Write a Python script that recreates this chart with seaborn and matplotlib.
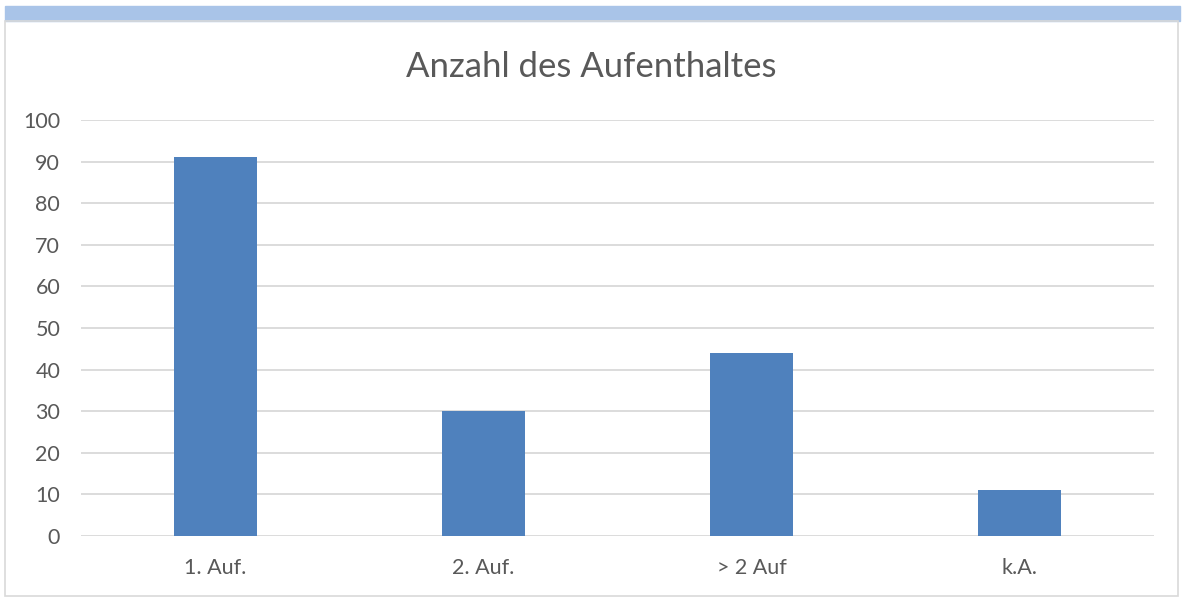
import matplotlib
matplotlib.use("Agg")
import matplotlib.pyplot as plt
import seaborn as sns
import pandas as pd
from matplotlib.patches import Rectangle

# ── Data ────────────────────────────────────────────────────────────────────
categories = ["1. Auf.", "2. Auf.", "> 2 Auf", "k.A."]
counts     = [91, 30, 44, 11]
y_ticks    = [0, 10, 20, 30, 40, 50, 60, 70, 80, 90, 100]

BAR_COLOR  = "#4F81BD"
GRID_COLOR = "#D9D9D9"
TEXT_COLOR = "#595959"

W, H = 1183, 598

sns.set_theme(style="white")
plt.rcParams['font.family'] = ['Lato', 'DejaVu Sans']

fig = plt.figure(figsize=(W / 100, H / 100), dpi=100)

# top light-blue strip and chart border
fig.patches.append(Rectangle((5 / W, 1 - 21 / H), 1175 / W, 15 / H,
                             transform=fig.transFigure, color="#A9C4E8", zorder=0))
fig.patches.append(Rectangle((5 / W, 1 - 596 / H), 1173 / W, 575 / H,
                             transform=fig.transFigure, fill=False,
                             edgecolor=GRID_COLOR, linewidth=1.2, zorder=0))

ax = fig.add_axes([81 / W, 1 - 536 / H, (1154 - 81) / W, (536 - 120) / H])

df = pd.DataFrame({"cat": categories, "n": counts})
sns.barplot(data=df, x="cat", y="n", color=BAR_COLOR, saturation=1,
            width=0.31, ax=ax, zorder=3, linewidth=0)

ax.set_ylim(0, 100)
ax.set_xlim(-0.5, len(categories) - 0.5)
ax.set_yticks(y_ticks)
ax.yaxis.grid(True, color=GRID_COLOR, linewidth=1.3, zorder=0)
ax.set_axisbelow(True)
for s in ax.spines.values():
    s.set_visible(False)
ax.set_xlabel("")
ax.set_ylabel("")
ax.tick_params(axis="both", length=0, labelsize=15.5, labelcolor=TEXT_COLOR)
ax.tick_params(axis="x", pad=16)
ax.tick_params(axis="y", pad=15)

fig.text(0.5, 1 - 67 / H, "Anzahl des Aufenthaltes", ha="center", va="center",
         fontsize=25, color=TEXT_COLOR)

fig.savefig("out.png", dpi=100)
